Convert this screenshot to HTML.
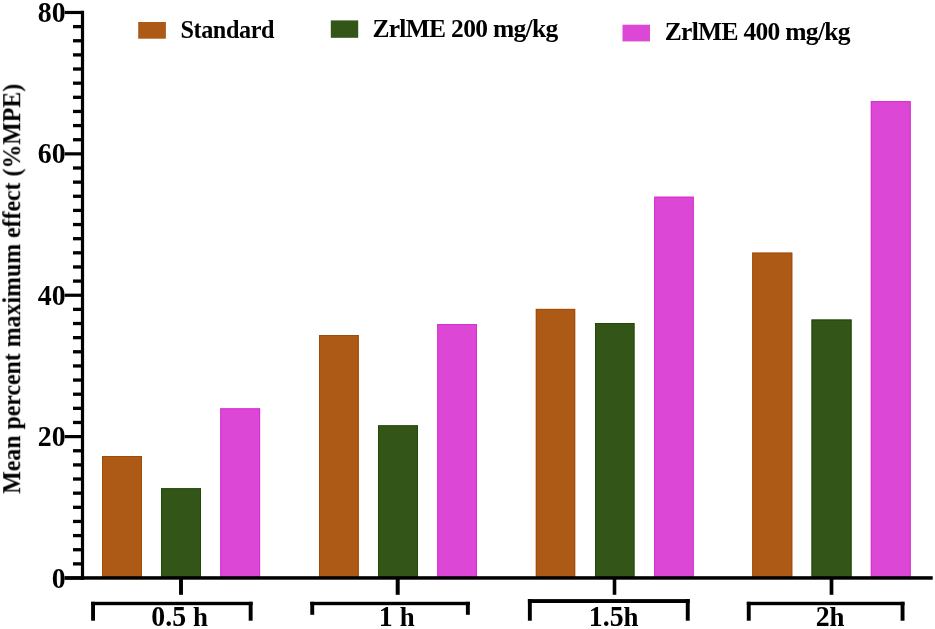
<!DOCTYPE html>
<html><head><meta charset="utf-8">
<style>
html,body{margin:0;padding:0;background:#fff;}
body{width:935px;height:629px;overflow:hidden;position:relative;}
svg{position:absolute;left:0;top:0;}
text{font-family:"Liberation Serif",serif;font-weight:bold;fill:#000;}
</style></head><body>
<svg width="935" height="629" viewBox="0 0 935 629">
<defs><filter id="gs" x="-5%" y="-20%" width="110%" height="140%" color-interpolation-filters="sRGB"><feColorMatrix type="saturate" values="0"/></filter></defs>
<rect x="102" y="456" width="40.0" height="122.0" fill="#AE5A17"/>
<rect x="102.5" y="456.5" width="39.0" height="122.0" fill="none" stroke="#9E4A04" stroke-width="1" stroke-opacity="0.9"/>
<rect x="161" y="488.2" width="40.0" height="89.8" fill="#335518"/>
<rect x="161.5" y="488.7" width="39.0" height="89.8" fill="none" stroke="#1E4804" stroke-width="1" stroke-opacity="0.9"/>
<rect x="220.2" y="408.3" width="39.9" height="169.7" fill="#DC48D5"/>
<rect x="220.7" y="408.8" width="38.9" height="169.7" fill="none" stroke="#D42ECD" stroke-width="1" stroke-opacity="0.9"/>
<rect x="319" y="335" width="39.8" height="243.0" fill="#AE5A17"/>
<rect x="319.5" y="335.5" width="38.8" height="243.0" fill="none" stroke="#9E4A04" stroke-width="1" stroke-opacity="0.9"/>
<rect x="378" y="425.3" width="40.0" height="152.7" fill="#335518"/>
<rect x="378.5" y="425.8" width="39.0" height="152.7" fill="none" stroke="#1E4804" stroke-width="1" stroke-opacity="0.9"/>
<rect x="437.2" y="324" width="39.8" height="254.0" fill="#DC48D5"/>
<rect x="437.7" y="324.5" width="38.8" height="254.0" fill="none" stroke="#D42ECD" stroke-width="1" stroke-opacity="0.9"/>
<rect x="535.8" y="308.9" width="39.4" height="269.1" fill="#AE5A17"/>
<rect x="536.3" y="309.4" width="38.4" height="269.1" fill="none" stroke="#9E4A04" stroke-width="1" stroke-opacity="0.9"/>
<rect x="595" y="323.0" width="39.5" height="255.0" fill="#335518"/>
<rect x="595.5" y="323.5" width="38.5" height="255.0" fill="none" stroke="#1E4804" stroke-width="1" stroke-opacity="0.9"/>
<rect x="654.1" y="196.7" width="39.7" height="381.3" fill="#DC48D5"/>
<rect x="654.6" y="197.2" width="38.7" height="381.3" fill="none" stroke="#D42ECD" stroke-width="1" stroke-opacity="0.9"/>
<rect x="752.2" y="252.6" width="40.1" height="325.4" fill="#AE5A17"/>
<rect x="752.7" y="253.1" width="39.1" height="325.4" fill="none" stroke="#9E4A04" stroke-width="1" stroke-opacity="0.9"/>
<rect x="811.5" y="319.5" width="40.1" height="258.5" fill="#335518"/>
<rect x="812.0" y="320.0" width="39.1" height="258.5" fill="none" stroke="#1E4804" stroke-width="1" stroke-opacity="0.9"/>
<rect x="870.8" y="101.1" width="39.9" height="476.9" fill="#DC48D5"/>
<rect x="871.3" y="101.6" width="38.9" height="476.9" fill="none" stroke="#D42ECD" stroke-width="1" stroke-opacity="0.9"/>
<rect x="80.9" y="10.8" width="3.2" height="569" fill="#000"/>
<rect x="64.7" y="576.40" width="19" height="3.2" fill="#000"/>
<rect x="73.0" y="562.21" width="10" height="3.3" fill="#000"/>
<rect x="73.0" y="548.07" width="10" height="3.3" fill="#000"/>
<rect x="73.0" y="533.94" width="10" height="3.3" fill="#000"/>
<rect x="73.0" y="519.80" width="10" height="3.3" fill="#000"/>
<rect x="73.0" y="505.66" width="10" height="3.3" fill="#000"/>
<rect x="73.0" y="491.52" width="10" height="3.3" fill="#000"/>
<rect x="73.0" y="477.38" width="10" height="3.3" fill="#000"/>
<rect x="73.0" y="463.25" width="10" height="3.3" fill="#000"/>
<rect x="73.0" y="449.11" width="10" height="3.3" fill="#000"/>
<rect x="64.7" y="435.02" width="19" height="3.2" fill="#000"/>
<rect x="73.0" y="420.83" width="10" height="3.3" fill="#000"/>
<rect x="73.0" y="406.69" width="10" height="3.3" fill="#000"/>
<rect x="73.0" y="392.56" width="10" height="3.3" fill="#000"/>
<rect x="73.0" y="378.42" width="10" height="3.3" fill="#000"/>
<rect x="73.0" y="364.28" width="10" height="3.3" fill="#000"/>
<rect x="73.0" y="350.14" width="10" height="3.3" fill="#000"/>
<rect x="73.0" y="336.00" width="10" height="3.3" fill="#000"/>
<rect x="73.0" y="321.87" width="10" height="3.3" fill="#000"/>
<rect x="73.0" y="307.73" width="10" height="3.3" fill="#000"/>
<rect x="64.7" y="293.64" width="19" height="3.2" fill="#000"/>
<rect x="73.0" y="279.45" width="10" height="3.3" fill="#000"/>
<rect x="73.0" y="265.31" width="10" height="3.3" fill="#000"/>
<rect x="73.0" y="251.18" width="10" height="3.3" fill="#000"/>
<rect x="73.0" y="237.04" width="10" height="3.3" fill="#000"/>
<rect x="73.0" y="222.90" width="10" height="3.3" fill="#000"/>
<rect x="73.0" y="208.76" width="10" height="3.3" fill="#000"/>
<rect x="73.0" y="194.62" width="10" height="3.3" fill="#000"/>
<rect x="73.0" y="180.49" width="10" height="3.3" fill="#000"/>
<rect x="73.0" y="166.35" width="10" height="3.3" fill="#000"/>
<rect x="64.7" y="152.26" width="19" height="3.2" fill="#000"/>
<rect x="73.0" y="138.07" width="10" height="3.3" fill="#000"/>
<rect x="73.0" y="123.93" width="10" height="3.3" fill="#000"/>
<rect x="73.0" y="109.80" width="10" height="3.3" fill="#000"/>
<rect x="73.0" y="95.66" width="10" height="3.3" fill="#000"/>
<rect x="73.0" y="81.52" width="10" height="3.3" fill="#000"/>
<rect x="73.0" y="67.38" width="10" height="3.3" fill="#000"/>
<rect x="73.0" y="53.24" width="10" height="3.3" fill="#000"/>
<rect x="73.0" y="39.11" width="10" height="3.3" fill="#000"/>
<rect x="73.0" y="24.97" width="10" height="3.3" fill="#000"/>
<rect x="64.7" y="10.88" width="19" height="3.2" fill="#000"/>
<rect x="64.7" y="576.2" width="868" height="3.5" fill="#000"/>
<rect x="179.05" y="578" width="3.9" height="16.8" fill="#000"/>
<rect x="395.70" y="578" width="4.0" height="16.8" fill="#000"/>
<rect x="612.70" y="578" width="3.6" height="16.8" fill="#000"/>
<rect x="829.65" y="578" width="3.7" height="16.8" fill="#000"/>
<rect x="91.1" y="601.8" width="161.5" height="3.4" fill="#000"/>
<rect x="91.1" y="601.8" width="3.9" height="18.9" fill="#000"/>
<rect x="248.7" y="601.8" width="3.9" height="18.9" fill="#000"/>
<rect x="310.3" y="601.8" width="159.5" height="3.4" fill="#000"/>
<rect x="310.3" y="601.8" width="3.9" height="13.0" fill="#000"/>
<rect x="465.9" y="601.8" width="3.9" height="13.0" fill="#000"/>
<rect x="527.9" y="599.1" width="161.8" height="3.9" fill="#000"/>
<rect x="527.9" y="599.1" width="3.9" height="21.6" fill="#000"/>
<rect x="685.8" y="599.1" width="3.9" height="21.6" fill="#000"/>
<rect x="746.8" y="601.8" width="157.7" height="3.4" fill="#000"/>
<rect x="746.8" y="601.8" width="3.9" height="18.9" fill="#000"/>
<rect x="900.6" y="601.8" width="3.9" height="18.9" fill="#000"/>
<rect x="138.2" y="22" width="27.7" height="16.7" fill="#AE5A17"/>
<rect x="330.8" y="20.4" width="27.4" height="17.4" fill="#335518"/>
<rect x="622.5" y="24.7" width="27.5" height="16.7" fill="#DC48D5"/>
<text transform="translate(37.8,22.0) scale(0.96,1)" font-size="29" filter="url(#gs)">80</text>
<text transform="translate(37.8,163.4) scale(0.96,1)" font-size="29" filter="url(#gs)">60</text>
<text transform="translate(37.8,304.6) scale(0.96,1)" font-size="29" filter="url(#gs)">40</text>
<text transform="translate(37.8,446.2) scale(0.96,1)" font-size="29" filter="url(#gs)">20</text>
<text transform="translate(51.8,587.6) scale(0.96,1)" font-size="29" filter="url(#gs)">0</text>
<text transform="translate(151.3,625.9) scale(0.96,1)" font-size="29" filter="url(#gs)">0.5 <tspan font-size="28">h</tspan></text>
<text transform="translate(378.8,625.9) scale(0.96,1)" font-size="29" filter="url(#gs)">1 <tspan font-size="28">h</tspan></text>
<text transform="translate(588.8,625.9) scale(0.96,1)" font-size="29" filter="url(#gs)">1.5<tspan font-size="28">h</tspan></text>
<text transform="translate(815.7,625.9) scale(0.96,1)" font-size="29" filter="url(#gs)">2<tspan font-size="28">h</tspan></text>
<text transform="translate(180.4,37.7) scale(0.95,1)" font-size="25.5" letter-spacing="-0.42" filter="url(#gs)">Standard</text>
<text transform="translate(372.4,36.6) scale(1,1)" font-size="25.5" letter-spacing="-0.69" filter="url(#gs)">ZrlME 200 mg/kg</text>
<text transform="translate(664.7,40.1) scale(1,1)" font-size="25.5" letter-spacing="-0.69" filter="url(#gs)">ZrlME 400 mg/kg</text>
<text transform="translate(20.2,493.7) rotate(-90) scale(0.917,1)" font-size="26" filter="url(#gs)">Mean percent maximum effect (%MPE)</text>
</svg>
</body></html>
